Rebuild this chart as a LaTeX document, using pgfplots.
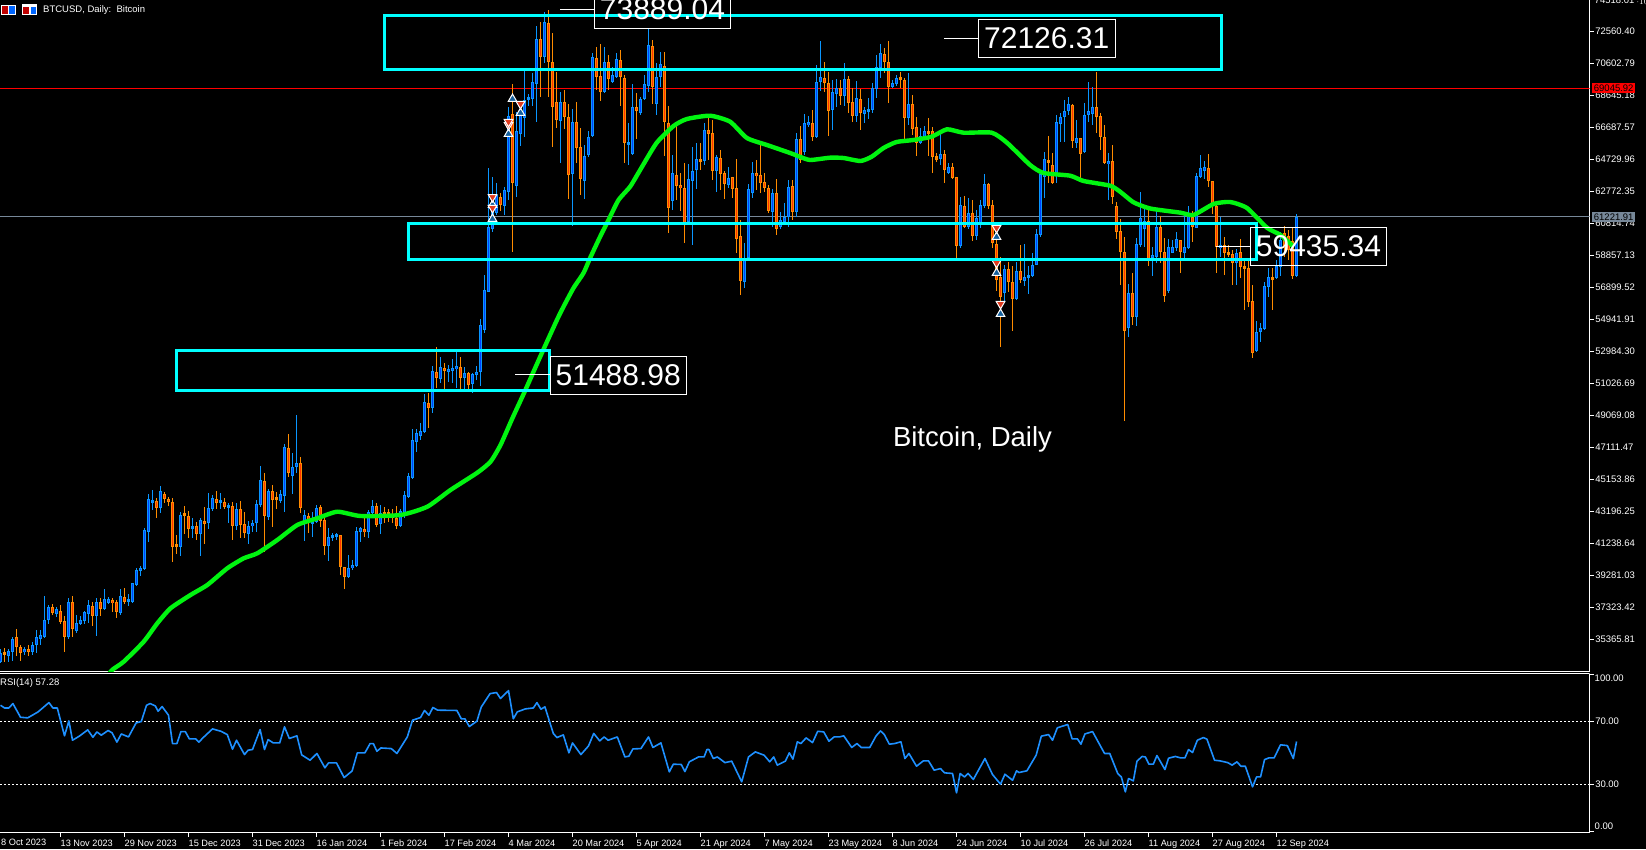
\documentclass[border=0pt]{standalone}
\usepackage{fontspec}
\setmainfont{Liberation Sans}
\usepackage{pgfplots}
\usepackage{pgfplotstable}
\pgfplotsset{compat=1.18}

\definecolor{upline}{HTML}{0A96FF}
\definecolor{upfill}{HTML}{0040FF}
\definecolor{dnline}{HTML}{FF8C00}
\definecolor{dnfill}{HTML}{FF3300}
\definecolor{maline}{HTML}{00F510}
\definecolor{rsiline}{HTML}{1E90FF}
\definecolor{zone}{HTML}{00FFFF}
\definecolor{bidgrey}{HTML}{778899}
\definecolor{arrowblue}{HTML}{14609C}
\definecolor{arrowred}{HTML}{E03A1E}

% bar number, open, high, low, close
\pgfplotstableread{
k o h l c
0 34022 34797 33920 34573
1 34573 34879 34022 34451
2 34369 34797 34022 34654
3 34634 35511 34063 35388
4 35511 36000 34369 34940
5 34899 35042 34063 34573
6 34614 34899 34430 34777
7 34777 35042 34369 34634
8 34634 35246 34430 35042
9 35042 35959 34532 35511
10 35429 35959 35042 35654
11 35552 38019 35450 36551
12 36551 37488 36326 37346
13 37346 37550 36877 36979
14 36918 37387 36775 37224
15 37142 37468 36326 36428
16 36490 36816 34634 35552
17 35552 37917 35389 37652
18 37652 38019 35552 36000
19 35898 36877 35796 36408
20 36347 36816 36265 36551
21 36530 37142 36326 37040
22 36938 37795 36367 37468
23 37407 37693 36204 36836
24 36795 37897 35613 37652
25 37652 37897 36816 37264
26 37224 38467 37183 37835
27 37591 37958 37530 37835
28 37774 37937 37081 37591
29 37652 37795 36714 37040
30 36979 38467 36877 38019
31 37958 38508 37550 37692
32 37692 38141 37448 37774
33 37692 38855 37591 38814
34 38712 39732 38651 39609
35 39609 39874 39263 39752
36 39670 42178 39650 42056
37 41934 44278 41363 43952
38 43810 44523 43300 43830
39 43830 44013 42831 43402
40 43402 44768 43096 44442
41 44258 44421 43748 43993
42 43952 44116 43565 43810
43 43769 44013 40139 41057
44 41138 41770 40608 41057
45 41057 43198 40506 42974
46 43035 43544 41811 42953
47 42913 43218 41607 42158
48 42219 42790 41567 42280
49 42321 42566 41464 41832
50 41852 42790 40506 42668
51 42606 43463 41220 42464
52 42484 44319 42158 43443
53 43381 44197 43239 44013
54 43952 44442 43361 43748
55 43769 44319 43340 43830
56 43769 44013 43340 43504
57 43504 43708 42525 43524
58 43524 43810 41464 42342
59 42301 43708 42076 43340
60 43340 43850 41567 42362
61 42423 43157 41607 41913
62 41852 42627 41240 42301
63 42301 42688 41974 42484
64 42484 43912 41974 43646
65 43606 45991 43504 45114
66 45053 45543 40710 42913
67 42892 44564 42688 44442
68 44442 44829 42280 43932
69 44013 44421 43361 43932
70 43850 44523 43748 44258
71 44177 47317 43198 47133
72 47072 47949 45298 45543
73 45359 46807 44278 45910
74 45950 49091 45543 46154
75 46154 46542 43137 43443
76 42627 43300 41424 42974
77 42913 43096 41872 42484
78 42484 43157 41669 42586
79 42586 43606 42484 43402
80 43463 43606 42280 42647
81 42688 42790 40547 41077
82 41118 42178 40200 41628
83 41628 41913 41424 41709
84 41709 41872 41464 41750
85 41750 41770 39324 39834
86 39793 39793 38488 39222
87 39181 40547 39161 39732
88 39732 40241 39630 39915
89 39874 42240 39793 41995
90 41974 42280 41363 42178
91 42117 42790 41669 41954
92 41934 43300 41607 43157
93 43096 43912 42892 43524
94 43524 43748 42280 42382
95 42443 43606 41832 43096
96 43096 43463 42505 43076
97 43137 43340 42586 42994
98 43055 43340 42525 42790
99 42831 43544 42138 42342
100 42301 43340 42280 43218
101 43137 44442 42790 44197
102 44116 45543 44013 45359
103 45278 48255 45176 47561
104 47480 48255 46868 47990
105 47826 48601 47582 48132
106 48092 50396 48030 49886
107 49825 50477 48295 49560
108 49560 52108 49254 51782
109 51721 53291 50742 51395
110 51333 52638 51048 52027
111 51966 52271 50701 51823
112 51762 52169 51150 51904
113 51823 52516 51048 51966
114 51904 53087 50742 52088
115 52027 52638 50640 51395
116 51354 52067 50681 51660
117 51660 51762 50640 50966
118 50987 51700 50477 51599
119 51537 52108 51252 51762
120 51741 54984 50885 54617
121 54311 57675 54127 56758
122 56635 64222 56635 60612
123 60490 63671 60306 62447
124 61469 63304 61346 62570
125 62447 62692 61591 61958
126 61897 63059 61346 62876
127 62753 67954 62264 67403
128 67525 69361 59083 63304
129 63121 67648 62447 66485
130 66302 68076 65568 67770
131 67281 70156 66118 68382
132 68443 68749 68015 68565
133 68443 70034 68015 69483
134 69361 72909 67036 72114
135 72114 73154 68565 71013
136 71013 73766 70646 73154
137 73093 73888 68565 70707
138 70707 72481 65506 67954
139 68260 70095 66669 67158
140 67097 68871 64528 68260
141 68260 68994 66608 67342
142 67342 68137 62325 63794
143 63855 67831 60673 67036
144 67036 68260 64528 65445
145 65506 66669 62570 63548
146 63426 65629 62325 64956
147 65017 66485 64895 66118
148 66180 71257 66118 71013
149 70952 71625 68994 69789
150 69850 71808 68321 68871
151 68871 71625 68810 70707
152 70707 71135 68994 69667
153 69483 70401 69422 69912
154 69789 71257 69728 70890
155 70829 71441 68015 69789
156 69728 69912 64528 65751
157 65690 66975 64405 65751
158 65078 69361 65017 67954
159 67954 68810 65996 67709
160 67587 68565 67464 68443
161 68443 69912 68382 69361
162 69239 72726 68871 71747
163 71686 72053 68137 69177
164 68137 70646 67464 69789
165 69789 71319 69177 70584
166 70462 71319 64956 67036
167 66975 68015 60245 61775
168 62203 65017 61652 63916
169 63794 66852 62264 63121
170 63182 63916 61591 62998
171 62998 64528 59633 60796
172 60918 64466 60857 63549
173 63427 65506 59511 64038
174 64099 65751 62937 64772
175 64711 65751 64099 64589
176 64650 66975 64405 66547
177 66547 67342 64711 66302
178 66363 67158 63488 64038
179 64038 65017 62753 64895
180 64834 65323 62876 63855
181 63916 64038 62325 63243
182 63182 64283 62998 63610
183 63671 63671 62386 62937
184 62998 64772 59022 59878
185 60062 61040 56452 57309
186 57247 59633 56880 58716
187 58716 63243 58655 62937
188 62692 64589 62386 63916
189 63916 64711 62876 63732
190 63794 65629 62692 63304
191 63365 63916 62753 62998
192 62998 63182 61469 61591
193 61530 62937 60612 62692
194 62692 63549 60123 60490
195 60612 61530 60490 61040
196 60918 62081 60735 61224
197 61224 63488 60612 63059
198 63121 63488 61040 61530
199 61530 66363 61224 65996
200 65996 66791 64528 64711
201 65201 67526 65017 66975
202 66853 67403 66730 67036
203 66975 67770 65874 66118
204 66118 70523 66057 69483
205 69483 71992 68933 69789
206 69728 70707 68871 69422
207 69422 70095 66180 67709
208 67770 69606 66547 68871
209 68749 69667 67954 69116
210 69116 69606 68076 68627
211 68627 70646 68015 69667
212 69667 69850 67587 68198
213 68260 69116 67036 67403
214 67403 69544 67036 68504
215 68443 69055 66547 67587
216 67525 67954 66975 67770
217 67709 68504 67220 67831
218 67770 69422 67587 69116
219 69055 71135 68504 70401
220 70340 71808 69728 71257
221 71196 71563 70034 70707
222 70707 71992 68198 69177
223 69177 69606 69116 69422
224 69361 69912 69238 69728
225 69728 70095 69116 69667
226 69606 69728 65996 67281
227 67281 70034 66853 68137
228 68137 68688 66241 66608
229 66730 67342 64956 65751
230 65751 66669 65690 66180
231 66118 66791 65935 66485
232 66485 67281 64956 66363
233 66485 66730 63916 64895
234 64895 65139 64589 64772
235 64772 66363 64405 65078
236 65078 65323 63304 64099
237 63916 64528 63855 64283
238 64283 64528 63549 63610
239 63671 63671 58716 59450
240 59450 62447 59327 61958
241 61897 62509 60551 60612
242 60612 62386 60490 61469
243 61469 62264 59756 60062
244 60062 61652 59817 61163
245 60857 62264 60551 61958
246 61897 63855 61775 63243
247 63243 63304 61713 61897
248 61958 62264 59327 59633
249 59572 59817 56697 57370
250 57553 58777 53271 56329
251 56574 58287 56024 58043
252 58043 58471 56635 57247
253 57247 58226 54249 56207
254 56207 58471 56146 57920
255 57920 59511 57186 57370
256 57309 59572 57003 57553
257 57553 58226 56513 57614
258 57614 59022 57553 58287
259 58287 60490 58287 60184
260 60123 63977 60001 63855
261 63671 65201 62386 64772
262 64650 66180 63304 64528
263 64405 65139 63243 63304
264 63916 67464 63304 67036
265 66914 67587 65812 67342
266 67342 68382 65812 67709
267 67709 68565 67464 68137
268 68076 68137 65445 65874
269 65751 67158 65445 66057
270 66057 66057 63610 65078
271 65201 68198 65139 67464
272 67464 69483 67036 67709
273 67525 69177 66853 67954
274 67954 70095 66363 67342
275 67403 67587 65323 66118
276 66118 66853 64466 64528
277 64466 65139 62264 64650
278 64650 65629 62019 62447
279 61897 62142 59878 60306
280 60367 61102 57064 59083
281 59083 60001 48743 54249
282 54433 57125 53882 56574
283 56574 57798 54617 55106
284 55106 59939 54556 59572
285 59511 62753 59388 61163
286 60490 61836 59388 60979
287 60979 61652 58226 58655
288 58716 59388 57614 58899
289 58777 61775 58410 60612
290 60612 61285 58410 59083
291 59083 59939 56024 56391
292 56697 59878 56574 59388
293 59022 59817 59022 59388
294 59327 60306 59144 59878
295 59817 59817 57798 59083
296 59022 61346 58655 59388
297 59327 61897 59266 61469
298 61224 61591 59694 60612
299 60551 63916 60551 63732
300 63671 65017 63610 64222
301 64038 64650 63549 64283
302 64222 65078 63059 63427
303 63427 63427 61407 62081
304 61897 62081 57798 59388
305 59327 61224 58777 59511
306 59511 60001 57676 59022
307 59022 59511 58777 58960
308 58960 59205 57064 58409
309 58409 59266 57064 59022
310 59083 59878 57492 58165
311 58165 58593 55534 58043
312 58104 58593 55717 56024
313 56085 57064 52598 52904
314 53026 54861 52965 54189
315 54189 54739 53576 54433
316 54372 57247 54311 57003
317 56941 58104 56330 57553
318 57553 58104 55534 57431
319 57492 58593 57431 58226
320 58165 60306 57614 59817
321 60245 60673 58777 59327
322 60061 60429 58593 59205
323 59756 60612 57431 57614
324 57614 61407 57553 61224
}\candledata

\pgfplotstableread{
k ma
26 32898
27.9 33509
30.8 34017
35.8 35241
39.2 36366
42.5 37283
47.5 38098
51.7 38710
56.7 39731
60.8 40343
64.2 40649
69.2 41463
74.2 42381
79.2 42790
84.2 43194
90 42931
100 42992
106.7 43499
112.5 44522
119.2 45580
122.5 46253
125 47275
128 48927
131 50517
135 52720
139.1 54922
140.75 55736
143.25 56880
145.75 57798
147.4 58716
149.9 60019
152 61040
154.5 62264
157.4 63078
159.9 64099
164 65751
168.25 66791
171.6 67220
177.4 67421
182.4 67054
186.6 66057
191.6 65629
197.4 65139
200 64895
202.4 64711
207.4 64852
210.7 64834
215 64650
217.8 64913
220.75 65445
224 65812
228.25 65935
232.8 66137
236.6 66589
240.75 66381
247.8 66381
251.6 65770
257.4 64405
260.75 63916
267.4 63751
270.75 63426
277.4 63139
279.9 62772
283.25 62123
287.4 61744
295 61487
298.25 61346
303.25 62019
307.4 62142
311.6 61775
316.6 60569
320 60123
323.25 59407
}\madata

\pgfplotstableread{
k rsi
0 80.3
1.0 78.6
2.1 78.6
3.1 81.4
5.0 72.7
6.8 72.3
9.4 76.1
12.1 82.0
13.1 78.6
14.2 78.6
16.0 60.9
17.1 70.4
18.0 58.1
19.7 60.7
21.8 64.7
23.1 60.0
24.1 63.4
25.2 61.3
26.9 64.3
27.9 62.8
29.1 56.9
30.2 62.1
32.0 60.2
33.9 69.1
35.2 70.0
36.5 80.3
37.4 81.4
38.7 79.9
39.4 76.5
40.4 79.5
42.0 74.0
43.0 56.0
44.1 56.0
45.1 63.6
46.2 63.6
47.2 59.0
48.8 59.0
49.6 56.9
50.6 59.6
53.0 65.3
55.1 63.8
56.7 61.7
58.0 52.4
59.0 58.1
61.0 49.0
61.9 51.8
63.0 52.2
64.9 64.9
66.0 52.2
66.9 58.5
68.2 56.4
69.8 56.4
71.0 66.6
72.2 59.2
74.1 60.9
75.3 48.8
77.4 45.4
79.1 49.7
81.1 40.6
82.0 43.7
84.0 43.7
85.9 34.4
87.9 38.6
89.2 50.1
91.1 50.1
92.4 56.0
93.2 56.0
94.1 51.1
95.1 53.2
97.7 52.8
99.1 49.7
101.7 60.2
103.0 70.8
105.0 72.5
106.0 77.0
107.1 74.0
108.1 78.9
109.3 77.2
114.1 77.0
115.2 71.7
116.1 71.7
117.2 66.8
119.1 70.2
120.2 79.3
122.4 87.7
124.0 88.4
125.0 84.6
127.0 89.6
128.2 71.7
129.2 76.1
131.2 78.0
133.2 78.6
134.1 82.0
135.1 77.8
136.1 79.3
138.2 62.4
139.1 59.8
140.7 61.5
142.1 50.1
143.0 56.4
145.1 49.0
147.0 54.5
148.3 62.4
149.8 57.7
150.9 60.2
151.9 58.1
154.2 60.2
156.1 47.5
157.1 48.0
158.1 52.6
160.1 52.8
162.0 60.2
163.1 53.5
165.1 56.4
167.2 38.0
168.2 42.9
170.2 42.7
171.1 38.2
172.2 44.4
174.5 47.5
175.9 47.5
176.6 52.2
177.1 52.2
178.2 46.5
179.2 47.5
181.1 43.9
182.8 44.8
185.3 31.7
187.0 47.5
188.7 50.7
190.9 48.6
192.3 44.4
193.3 47.5
194.2 42.3
196.2 44.8
197.2 50.1
198.1 46.1
199.2 57.1
200.1 56.0
201.4 59.6
203.0 56.6
204.3 63.8
205.8 63.4
207.1 57.5
208.4 60.2
209.7 60.2
210.8 60.9
212.8 53.5
214.1 56.0
215.2 53.5
217.3 53.5
218.9 60.9
220.0 64.0
220.9 61.9
222.2 55.6
223.5 56.0
225.1 57.1
226.1 46.5
227.1 49.7
229.0 41.6
230.7 45.0
232.0 45.0
233.4 39.1
235.0 40.1
236.0 37.4
238.0 37.0
239.0 24.7
239.9 37.0
241.0 34.8
241.9 37.0
243.2 33.2
246.1 46.5
248.0 36.3
250.0 30.2
251.1 36.5
253.0 32.7
254.0 38.7
254.6 37.6
256.6 38.7
258.9 48.6
260.2 60.7
262.0 61.7
263.0 58.1
264.2 66.0
266.8 68.1
267.9 59.0
269.2 59.0
270.1 55.6
271.1 62.1
273.0 63.6
276.0 49.7
277.3 49.7
279.3 37.0
280.2 34.8
281.2 25.3
282.0 33.8
283.2 32.3
284.1 44.8
285.4 47.8
286.2 47.5
287.1 42.9
288.2 42.9
289.1 48.4
291.1 39.5
292.0 46.7
293.7 47.8
295.0 46.9
296.1 46.9
297.0 52.2
298.0 50.3
299.2 58.1
300.7 59.8
301.6 58.8
303.5 45.4
304.9 45.0
306.8 43.9
307.9 42.3
309.1 44.4
310.1 41.6
311.2 41.6
313.0 28.5
314.0 34.8
315.0 34.8
316.0 45.8
317.1 46.9
318.4 46.9
320.0 55.2
321.7 54.7
323.2 46.5
324 57.28
}\rsidata

% #1 test, #2 wick and outline colour, #3 inner colour
\newcommand{\candles}[3]{
\addplot[draw=none, mark=none, forget plot, error bars/.cd, y dir=both, y explicit, error mark=none,
    error bar style={line width=1pt, color=#2}]
    table[x=k, y expr={#1 ? (\thisrow{h}+\thisrow{l})/2 : nan}, y error expr={(\thisrow{h}-\thisrow{l})/2}] {\candledata};
\addplot[draw=none, mark=none, forget plot, error bars/.cd, y dir=both, y explicit, error mark=none,
    error bar style={line width=3pt, color=#2}]
    table[x=k, y expr={#1 ? (\thisrow{o}+\thisrow{c})/2 : nan}, y error expr={max(abs(\thisrow{c}-\thisrow{o})/2,92)}] {\candledata};
\addplot[draw=none, mark=none, forget plot, error bars/.cd, y dir=both, y explicit, error mark=none,
    error bar style={line width=1pt, color=#3}]
    table[x=k, y expr={#1 ? (\thisrow{o}+\thisrow{c})/2 : nan}, y error expr={max(abs(\thisrow{c}-\thisrow{o})/2-61,0)}] {\candledata};
}

\newcommand{\tinyfont}{\fontsize{9.5}{10}\selectfont}
\newcommand{\datefont}{\fontsize{9.2}{10}\selectfont}
\newcommand{\bigfont}{\fontsize{30}{30}\selectfont}

\begin{document}
\begin{tikzpicture}
\path[use as bounding box, fill=black] (0pt,0pt) rectangle (1646pt,849pt);
\clip (0pt,0pt) rectangle (1646pt,849pt);

\begin{axis}[
    at={(0pt,177.5pt)}, anchor=south west,
    scale only axis, width=1589.5pt, height=671.5pt,
    xmin=-0.125, xmax=397.25,
    ymin=33417, ymax=74500,
    axis x line=bottom, axis y line=right,
    axis line style={white, -, line width=1pt},
    xtick=\empty,
    ytick={72560.40,70602.79,68645.18,66687.57,64729.96,62772.35,60814.74,58857.13,56899.52,54941.91,52984.30,51026.69,49069.08,47111.47,45153.86,43196.25,41238.64,39281.03,37323.42,35365.81},
    yticklabels={72560.40,70602.79,68645.18,66687.57,64729.96,62772.35,60814.74,58857.13,56899.52,54941.91,52984.30,51026.69,49069.08,47111.47,45153.86,43196.25,41238.64,39281.03,37323.42,35365.81},
    tick align=outside, major tick length=4pt,
    tick style={white, line width=1pt},
    yticklabel style={white, font=\tinyfont, inner sep=0pt, anchor=west, xshift=1.5pt},
    unbounded coords=discard,
]
\addplot[red, line width=1pt, forget plot] coordinates {(-0.125,69086) (397.25,69086)};
\addplot[bidgrey, line width=1pt, forget plot] coordinates {(-0.125,61255) (397.25,61255)};

\candles{\thisrow{c}>=\thisrow{o}}{upline}{upfill}
\candles{\thisrow{c}<\thisrow{o}}{dnline}{dnfill}

\addplot[maline, line width=4.4pt, line join=round, smooth, tension=0.35, forget plot] table[x=k, y=ma] {\madata};

\addplot[only marks, mark=triangle*, mark size=5pt, forget plot,
    mark options={fill=arrowblue, draw=white, line width=1pt}]
    coordinates {(123,61102) (123,61958) (127,66302) (128,68443) (130,67587) (249,60001) (249,57798) (250,55289)};
\addplot[only marks, mark=triangle*, mark size=5pt, forget plot,
    mark options={fill=arrowred, draw=white, line width=1pt, rotate=180}]
    coordinates {(123,62447) (123,61775) (127,66852) (127,67036) (130,68137) (249,60551) (249,58410) (250,55901)};
\end{axis}

\begin{axis}[
    at={(0pt,16.5pt)}, anchor=south west,
    scale only axis, width=1589.5pt, height=159pt,
    xmin=-0.125, xmax=397.25,
    ymin=-0.476, ymax=100.476,
    axis x line=bottom, axis y line=right,
    axis line style={white, -, line width=1pt},
    xtick={15,31,47,63,79,95,111,127,143,159,175,191,207,223,239,255,271,287,303,319},
    xticklabels={13 Nov 2023,29 Nov 2023,15 Dec 2023,31 Dec 2023,16 Jan 2024,1 Feb 2024,17 Feb 2024,4 Mar 2024,20 Mar 2024,5 Apr 2024,21 Apr 2024,7 May 2024,23 May 2024,8 Jun 2024,24 Jun 2024,10 Jul 2024,26 Jul 2024,11 Aug 2024,27 Aug 2024,12 Sep 2024},
    ytick={0,30,70,100},
    yticklabels={,30.00,70.00,},
    tick align=outside, major tick length=4pt,
    tick style={white, line width=1pt},
    xticklabel style={white, font=\datefont, inner sep=0pt, anchor=north west, yshift=-3pt},
    yticklabel style={white, font=\tinyfont, inner sep=0pt, anchor=west, xshift=1.5pt},
]
\addplot[white, line width=1pt, dash pattern=on 2pt off 2pt, forget plot] coordinates {(-0.125,70) (397.25,70)};
\addplot[white, line width=1pt, dash pattern=on 2pt off 2pt, forget plot] coordinates {(-0.125,30) (397.25,30)};
\addplot[rsiline, line width=1.6pt, line join=round, forget plot] table[x=k, y=rsi] {\rsidata};
\draw[white, line width=1pt] (rel axis cs:0,1) -- (rel axis cs:1,1);
\end{axis}

% text and zones, in page units (y counted up from the bottom)
\node[white, font=\tinyfont, anchor=west, inner sep=0pt] at (43pt,839.3pt) {BTCUSD, Daily:\ \ Bitcoin};
\node[white, font=\tinyfont, anchor=west, inner sep=0pt] at (0pt,166pt) {RSI(14) 57.28};
\node[white, font=\datefont, anchor=north west, inner sep=0pt] at (1pt,10.5pt) {8 Oct 2023};
\node[white, font=\tinyfont, anchor=west, inner sep=0pt] at (1594.5pt,849pt) {74518.01};
\node[white, font=\tinyfont, anchor=west, inner sep=0pt] at (1594.5pt,171pt) {100.00};
\node[white, font=\tinyfont, anchor=west, inner sep=0pt] at (1594.5pt,22.3pt) {0.00};

\node[fill=red, text=black, font=\tinyfont, inner sep=0pt, minimum width=43.5pt, minimum height=10pt] at (1613.7pt,760.7pt) {69045.92};
\node[fill=bidgrey, text=black, font=\tinyfont, inner sep=0pt, minimum width=43.5pt, minimum height=10pt] at (1613.7pt,632.2pt) {61221.91};

\draw[zone, line width=3pt] (384pt,833pt) rectangle (1221pt,779.7pt);
\draw[zone, line width=3pt] (408pt,625.7pt) rectangle (1256.7pt,589pt);
\draw[zone, line width=3pt] (176pt,498pt) rectangle (549.5pt,458.7pt);

\draw[white, line width=1pt] (560pt,839.7pt) -- (594.3pt,839.7pt);
\draw[white, line width=1pt] (594.3pt,860pt) rectangle (730.7pt,820.7pt);
\node[white, font=\bigfont] at (662.5pt,839.7pt) {73889.04};

\draw[white, line width=1pt] (944pt,810.7pt) -- (978.3pt,810.7pt);
\draw[white, line width=1pt] (978.3pt,829.7pt) rectangle (1115pt,791.7pt);
\node[white, font=\bigfont] at (1046.7pt,810.7pt) {72126.31};

\draw[white, line width=1pt] (1216pt,602.7pt) -- (1250.4pt,602.7pt);
\draw[white, line width=1pt] (1250.4pt,621.7pt) rectangle (1386.6pt,583.7pt);
\node[white, font=\bigfont] at (1318.5pt,602.7pt) {59435.34};

\draw[white, line width=1pt] (515.4pt,474pt) -- (550pt,474pt);
\draw[white, line width=1pt] (550pt,492.5pt) rectangle (686.5pt,454.5pt);
\node[white, font=\bigfont] at (618.2pt,473.5pt) {51488.98};

\node[white, font=\fontsize{27.5}{28}\selectfont] at (972.5pt,410pt) {Bitcoin, Daily};

% toolbar icons
\fill[white] (1pt,843.5pt) rectangle (16pt,834pt);
\fill[red!75!black] (2pt,842.5pt) rectangle (8pt,835pt);
\fill[blue!60!cyan] (9pt,842.5pt) rectangle (15pt,835pt);
\fill[white] (22pt,844.5pt) rectangle (37pt,834pt);
\fill[red!75!black] (23pt,842pt) rectangle (29pt,835pt);
\fill[blue!60!cyan] (31pt,842pt) rectangle (36pt,835pt);
\end{tikzpicture}
\end{document}
